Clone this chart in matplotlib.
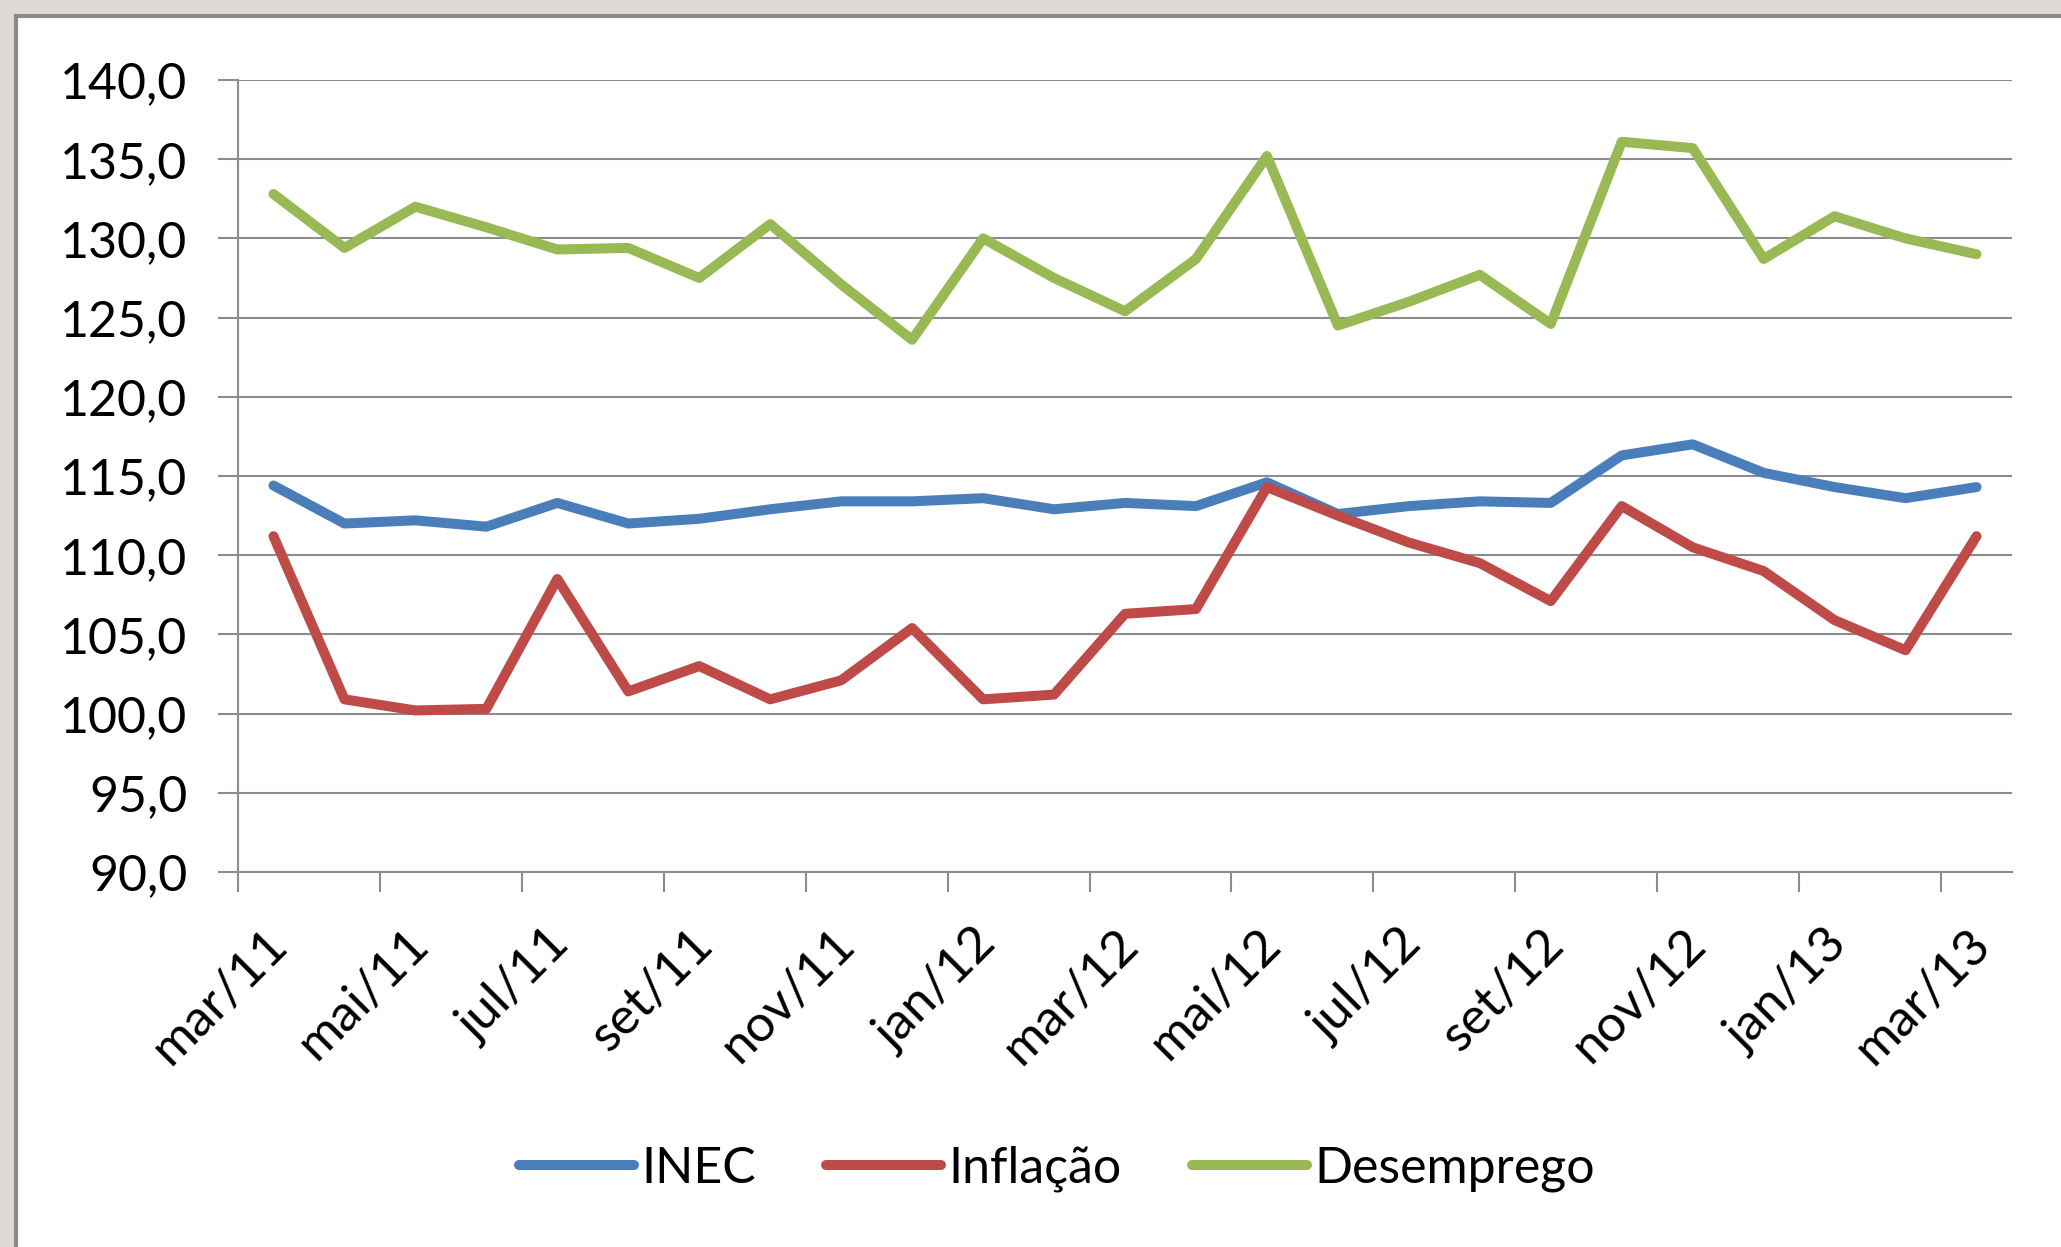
import numpy as np
import matplotlib.pyplot as plt
from matplotlib.patches import Rectangle
from matplotlib.transforms import ScaledTranslation

plt.rcParams['font.family'] = ['Lato', 'DejaVu Sans']

meses = ['mar/11', 'abr/11', 'mai/11', 'jun/11', 'jul/11', 'ago/11', 'set/11', 'out/11',
         'nov/11', 'dez/11', 'jan/12', 'fev/12', 'mar/12', 'abr/12', 'mai/12', 'jun/12',
         'jul/12', 'ago/12', 'set/12', 'out/12', 'nov/12', 'dez/12', 'jan/13', 'fev/13', 'mar/13']

inec = [114.4, 112.0, 112.2, 111.8, 113.3, 112.0, 112.3, 112.9, 113.4, 113.4, 113.6, 112.9, 113.3,
        113.1, 114.6, 112.6, 113.1, 113.4, 113.3, 116.3, 117.0, 115.2, 114.3, 113.6, 114.3]
inflacao = [111.2, 100.9, 100.2, 100.3, 108.5, 101.4, 103.0, 100.9, 102.1, 105.4, 100.9, 101.2, 106.3,
            106.6, 114.3, 112.5, 110.8, 109.5, 107.1, 113.1, 110.5, 109.0, 105.9, 104.0, 111.2]
desemprego = [132.8, 129.4, 132.0, 130.7, 129.3, 129.4, 127.5, 130.9, 127.1, 123.6, 130.0, 127.5, 125.4,
              128.7, 135.2, 124.5, 126.0, 127.7, 124.6, 136.1, 135.7, 128.7, 131.4, 130.0, 129.0]

series = [('INEC', inec, '#4a7ebb'),
          ('Inflação', inflacao, '#be4b48'),
          ('Desemprego', desemprego, '#98b954')]

fig = plt.figure(figsize=(20.61, 12.47), dpi=100)
fig.patch.set_facecolor('#dedbd4')
# white panel with dark border on top/left
fig.patches.append(Rectangle((16/2061, -0.05), 1.1, 1 - 16/1247 + 0.05, transform=fig.transFigure,
                             facecolor='white', edgecolor='#8a8a8a', linewidth=3, zorder=-5))

ax = fig.add_axes([238/2061, 1 - 872/1247, (2012 - 238)/2061, (872 - 80)/1247])
ax.set_facecolor('none')

x = np.arange(len(meses)) + 0.5
for nome, vals, cor in series:
    ax.plot(x, vals, color=cor, lw=7.2, solid_capstyle='round', solid_joinstyle='round', label=nome)

ax.set_xlim(0, len(meses))
ax.set_ylim(90, 140)
yt = np.arange(90, 141, 5)
ax.set_yticks(yt)
ax.set_yticklabels([f'{v:.1f}'.replace('.', ',') for v in yt])
ax.set_xticks(np.arange(0, len(meses), 2))
ax.set_xticklabels(meses[::2], rotation=45, ha='right', va='center', rotation_mode='anchor')

ax.grid(axis='y', color='#8c8c8c', lw=1.5)
ax.set_axisbelow(True)
for s in ['top', 'right']:
    ax.spines[s].set_visible(False)
for s in ['left', 'bottom']:
    ax.spines[s].set_color('#8c8c8c')
    ax.spines[s].set_linewidth(1.5)
ax.tick_params(axis='both', colors='#8c8c8c', length=14.4, width=1.5, labelcolor='black')
ax.tick_params(axis='y', pad=22, labelsize=36)
ax.tick_params(axis='x', pad=32, labelsize=37)
off = ScaledTranslation(0.41, 0, fig.dpi_scale_trans)
for lab in ax.get_xticklabels():
    lab.set_transform(lab.get_transform() + off)

fig.legend(loc='center', bbox_to_anchor=(1057/2061, 1 - 1169/1247), ncol=3, frameon=False,
           fontsize=36, handlelength=2.3, handletextpad=0.15, columnspacing=1.4)

fig.savefig('out.png', dpi=100)
